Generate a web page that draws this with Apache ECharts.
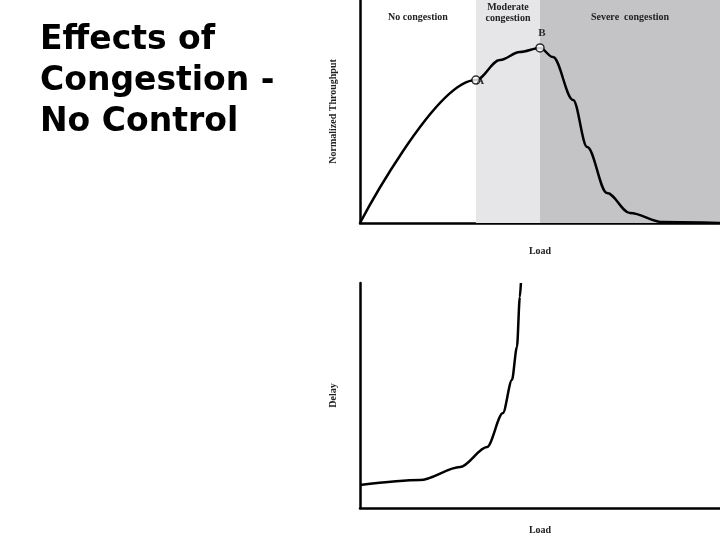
<!DOCTYPE html>
<html><head><meta charset="utf-8">
<script src="https://cdn.jsdelivr.net/npm/echarts@6/dist/echarts.min.js"></script>
<style>html,body{margin:0;padding:0;background:#fff}#c{width:720px;height:540px}</style>
</head><body><div id="c"></div>
<script>
const throughputLoad = [0, 32.2, 38.9, 44.4, 50, 53.6, 59.2, 63.1, 68.6, 75, 84.2, 100];
const throughputVals = [0, 64.1, 73.1, 76.7, 78.5, 74.4, 55.2, 34.1, 13.5, 4.5, 0.4, 0];
const delayLoad = [0, 16.7, 27.8, 35.3, 39.7, 42.2, 43.6, 44.4, 44.7];
const delayVals = [10.2, 12.4, 18.2, 27.1, 42.2, 56.9, 71.6, 93.8, 100];
const regions = [
  {name: 'No congestion', from: 0, to: 32.2, color: 'rgba(255,255,255,0)'},
  {name: 'Moderate\ncongestion', from: 32.2, to: 50, color: '#e6e5e7'},
  {name: 'Severe  congestion', from: 50, to: 100, color: '#c4c3c6'}
];
const points = [{name: 'A', x: 32.2, y: 64.1}, {name: 'B', x: 50, y: 78.5}];
const titleLines = 'Effects of\nCongestion -\nNo Control';

const serif = 'Liberation Serif';
const axisBase = (name, gap) => ({
  type: 'value', min: 0, max: 100, name: name, nameLocation: 'middle', nameGap: gap,
  nameTextStyle: {fontFamily: serif, fontSize: 10, fontWeight: 'bold', color: '#222'},
  axisLine: {show: true, lineStyle: {color: '#000', width: 2.5}},
  axisTick: {show: false}, axisLabel: {show: false}, splitLine: {show: false}
});
const chart = echarts.init(document.getElementById('c'));
chart.setOption({
  animation: false,
  graphic: [{type: 'text', left: 40, top: 20, style: {text: titleLines, font: 'bold 33px "DejaVu Sans"', fill: '#000', lineHeight: 41}}],
  grid: [
    {left: 360, right: 0, top: 0, height: 223},
    {left: 360, right: 0, top: 283, height: 225}
  ],
  xAxis: [
    Object.assign(axisBase('Load', 23), {gridIndex: 0}),
    Object.assign(axisBase('Load', 17), {gridIndex: 1})
  ],
  yAxis: [
    Object.assign(axisBase('Normalized Throughput', 22), {gridIndex: 0}),
    Object.assign(axisBase('Delay', 22), {gridIndex: 1})
  ],
  series: [
    {
      type: 'line', xAxisIndex: 0, yAxisIndex: 0, smooth: 0.35, smoothMonotone: 'x', showSymbol: false,
      lineStyle: {color: '#000', width: 2.5},
      data: throughputLoad.map((x, i) => [x, throughputVals[i]]),
      markArea: {
        silent: true,
        label: {position: 'insideTop', distance: 12, fontFamily: serif, fontSize: 10, fontWeight: 'bold', color: '#222', lineHeight: 11},
        data: regions.map(r => [{name: r.name, xAxis: r.from, itemStyle: {color: r.color},
          label: r.name.indexOf('\n') >= 0 ? {distance: 2} : {distance: 12}}, {xAxis: r.to, yAxis: 100}])
      },
      z: 3
    },
    {
      type: 'scatter', xAxisIndex: 0, yAxisIndex: 0, symbol: 'circle', symbolSize: 8,
      itemStyle: {color: '#fff', borderColor: '#000', borderWidth: 1.5},
      label: {show: true, formatter: p => p.value[2], fontFamily: serif, fontWeight: 'bold', fontSize: 11, color: '#000'},
      data: points.map(p => ({value: [p.x, p.y, p.name], label: p.name === 'B' ? {position: [3, -16]} : {position: [5, 0]}})),
      z: 5
    },
    {
      type: 'line', xAxisIndex: 1, yAxisIndex: 1, smooth: 0.3, smoothMonotone: 'x', showSymbol: false,
      lineStyle: {color: '#000', width: 2.5},
      data: delayLoad.map((x, i) => [x, delayVals[i]])
    }
  ]
});
</script></body></html>
